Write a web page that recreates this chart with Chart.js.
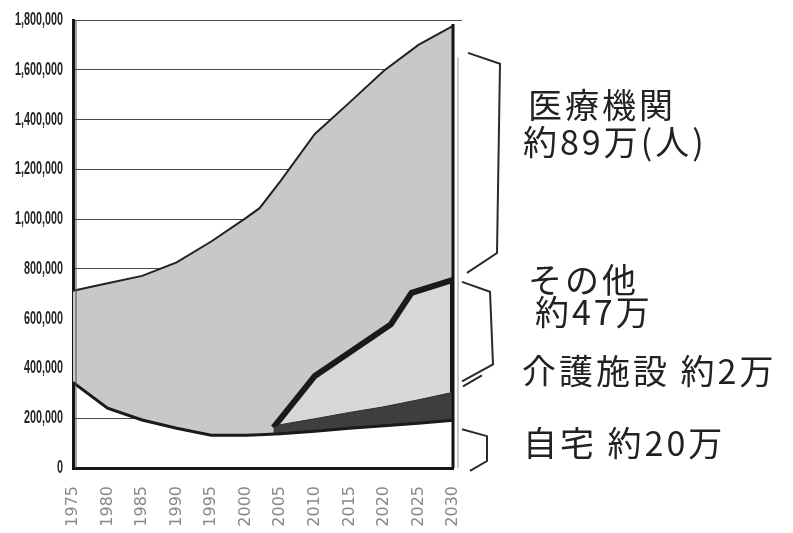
<!DOCTYPE html>
<html lang="ja">
<head>
<meta charset="utf-8">
<title>死亡場所の推移</title>
<style>
  html, body { margin: 0; padding: 0; background: #fff; }
  #wrap { width: 793px; height: 533px; position: relative; overflow: hidden; }
</style>
</head>
<body>
<div id="wrap"><canvas id="deathChart" width="793" height="533"></canvas></div>
<script src="https://cdn.jsdelivr.net/npm/chart.js@4/dist/chart.umd.min.js"></script>
<script>
// 年次（横軸）
const years = [1975, 1980, 1985, 1990, 1995, 2000, 2002, 2005, 2010, 2015, 2020, 2025, 2030];
// 死亡者数 合計（医療機関の上端）
const totalDeaths = [712000, 742000, 772000, 826000, 910000, 1004000, 1044000, 1152000, 1342000, 1468000, 1596000, 1700000, 1776000];
// 自宅
const homeDeaths = [344000, 240000, 193000, 160000, 132000, 132000, 134000, 138000, 148000, 160000, 170000, 180000, 192000];
// 介護施設（累積上端）
const careYears = [2004, 2005, 2010, 2015, 2020, 2025, 2030];
const careTop = [162000, 174000, 198000, 223000, 246000, 274000, 304000];
// その他（累積上端）
const otherYears = [2004, 2010, 2021, 2024, 2030, 2030];
const otherTop = [162000, 370000, 577000, 704000, 756000, 304000];
// 縦軸目盛り
const yMax = 1800000;
const yStep = 200000;

const toPoints = (xs, ys) => xs.map((x, i) => ({ x: x, y: ys[i] }));

// 右側の注記（かっこ線と文字）、縦軸の数字（細長い字体）
const notes = {
    id: 'notes',
    afterDraw(chart) {
        const ctx = chart.ctx;
        const area = chart.chartArea;
        const ys = chart.scales.y;
        const r = area.right;
        ctx.save();

        // 縦軸の数字
        const sx = 0.6;
        ctx.save();
        ctx.scale(sx, 1);
        ctx.fillStyle = '#262626';
        ctx.font = 'bold 18px "Liberation Sans", Arial, sans-serif';
        ctx.textAlign = 'right';
        ctx.textBaseline = 'middle';
        ys.ticks.forEach(t => {
            ctx.fillText(t.value.toLocaleString('en-US'), 63 / sx, ys.getPixelForValue(t.value));
        });
        ctx.restore();

        // 枠の右側
        ctx.strokeStyle = '#999';
        ctx.lineWidth = 1;
        ctx.beginPath();
        ctx.moveTo(r + 5, ys.getPixelForValue(1650000));
        ctx.lineTo(r + 5, area.bottom);
        ctx.stroke();
        ctx.strokeStyle = '#151515';
        ctx.lineWidth = 3;
        ctx.beginPath();
        ctx.moveTo(r, area.top + 4);
        ctx.lineTo(r, area.bottom);
        ctx.stroke();
        // 最上段の罫線（少し右へ伸びる）
        ctx.strokeStyle = '#4a4a4a';
        ctx.lineWidth = 1;
        ctx.beginPath();
        ctx.moveTo(r, area.top + 0.5);
        ctx.lineTo(r + 9, area.top + 0.5);
        ctx.stroke();
        // 左側の細い線
        ctx.beginPath();
        ctx.moveTo(area.left + 3, area.top);
        ctx.lineTo(area.left + 3, area.bottom);
        ctx.stroke();

        // かっこ
        const braces = [
            [[15, 1668000], [47, 1624000], [44, 864000], [14, 784000]],
            [[9, 748000], [37, 708000], [40, 416000], [9, 348000]],
            [[10, 328000], [29, 372000]],
            [[9, 156000], [34, 128000], [34, 28000], [17, -12000]]
        ];
        ctx.strokeStyle = '#2a2a2a';
        ctx.lineWidth = 2;
        ctx.lineJoin = 'miter';
        braces.forEach(pts => {
            ctx.beginPath();
            pts.forEach((p, i) => {
                const px = r + p[0];
                const py = ys.getPixelForValue(p[1]);
                if (i === 0) ctx.moveTo(px, py); else ctx.lineTo(px, py);
            });
            ctx.stroke();
        });

        // 文字
        ctx.fillStyle = '#222';
        ctx.font = '34px "Noto Sans CJK JP", sans-serif';
        ctx.textAlign = 'left';
        ctx.textBaseline = 'middle';
        if ('letterSpacing' in ctx) ctx.letterSpacing = '3px';
        ctx.fillText('医療機関', 528, 105);
        ctx.fillText('約89万(人)', 523, 142);
        ctx.fillText('その他', 528, 280);
        ctx.fillText('約47万', 535, 312);
        ctx.fillText('介護施設 約2万', 522, 371);
        ctx.fillText('自宅 約20万', 523, 443);
        ctx.restore();
    }
};

const ctx = document.getElementById('deathChart').getContext('2d');
new Chart(ctx, {
    type: 'line',
    data: {
        datasets: [{
            label: '自宅',
            data: toPoints(years, homeDeaths),
            borderColor: '#1a1a1a',
            borderWidth: 3,
            fill: false
        }, {
            label: '介護施設',
            data: toPoints(careYears, careTop),
            borderColor: '#2e2e2e',
            borderWidth: 1,
            backgroundColor: '#3e3e3e',
            fill: { target: 0 }
        }, {
            label: 'その他',
            data: toPoints(otherYears, otherTop),
            borderColor: '#1a1a1a',
            borderWidth: 6,
            backgroundColor: '#d8d8d8',
            fill: { target: 1 }
        }, {
            label: '医療機関',
            data: toPoints(years, totalDeaths),
            borderColor: '#222',
            borderWidth: 2,
            backgroundColor: '#c8c8c8',
            fill: { target: 0 }
        }]
    },
    options: {
        responsive: false,
        animation: false,
        layout: { padding: { left: 3, top: 20, right: 340, bottom: 0 } },
        elements: {
            point: { radius: 0 },
            line: { tension: 0, borderJoinStyle: 'miter' }
        },
        plugins: {
            legend: { display: false },
            tooltip: { enabled: false }
        },
        scales: {
            x: {
                type: 'linear',
                min: 1975,
                max: 2030,
                grid: { display: false, drawTicks: false },
                border: { display: true, color: '#151515', width: 3 },
                ticks: {
                    stepSize: 5,
                    autoSkip: false,
                    minRotation: 90,
                    maxRotation: 90,
                    padding: 18,
                    color: '#888',
                    font: { family: 'DejaVu Sans', size: 16 },
                    callback: v => String(v)
                },
                afterFit(scale) {
                    scale.height = 65;
                    scale.paddingLeft = 0;
                    scale.paddingRight = 0;
                }
            },
            y: {
                min: 0,
                max: yMax,
                grid: { color: '#4a4a4a', lineWidth: 1, drawTicks: false },
                border: { display: true, color: '#151515', width: 3 },
                ticks: {
                    stepSize: yStep,
                    display: false
                },
                afterFit(scale) {
                    scale.width = 70;
                    scale.paddingTop = 0;
                    scale.paddingBottom = 0;
                }
            }
        }
    },
    plugins: [notes]
});
</script>
</body>
</html>
